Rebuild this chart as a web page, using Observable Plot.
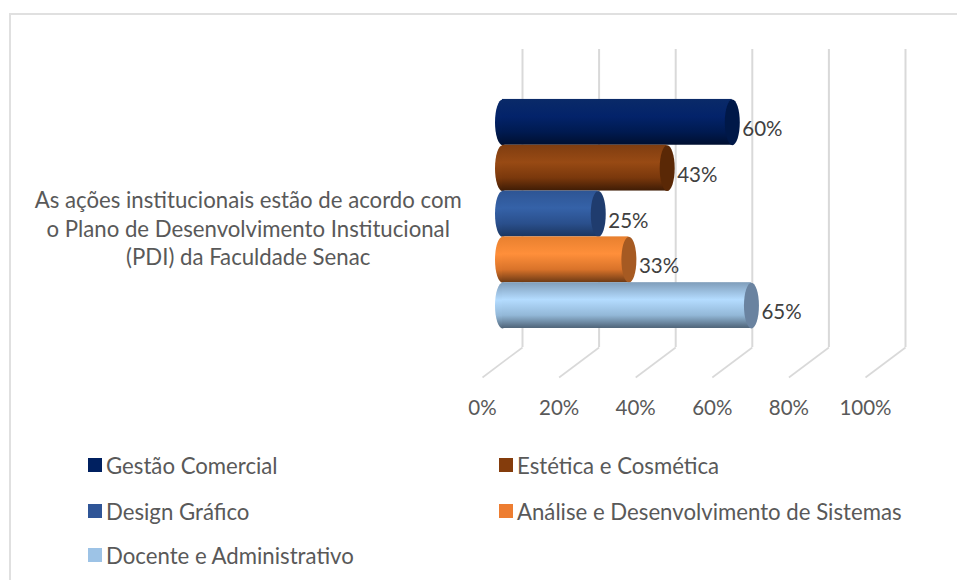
<!DOCTYPE html>
<html lang="pt">
<head>
<meta charset="utf-8">
<script src="https://cdn.jsdelivr.net/npm/d3@7"></script>
<script src="https://cdn.jsdelivr.net/npm/@observablehq/plot@0.6"></script>
<style>
  html, body { margin: 0; padding: 0; background: #fff; }
  #chart { position: relative; width: 957px; height: 580px; overflow: hidden; font-family: Lato, sans-serif; }
  #frame { position: absolute; left: 9px; top: 13px; width: 960px; height: 600px; border: 2px solid #e0e0e0; box-sizing: border-box; }
  #plot { position: absolute; left: 0; top: 0; }
  #plot svg { display: block; background: transparent; }
  .leg { position: absolute; display: flex; align-items: center; height: 20px; color: #595959; font-size: 22.2px; white-space: nowrap; }
  .leg i { display: block; width: 13.5px; height: 14.5px; margin-right: 4.5px; }
</style>
</head>
<body>
<div id="chart"><div id="frame"></div><div id="plot"></div></div>
<script>
const question = "As ações institucionais estão de acordo com\no Plano de Desenvolvimento Institucional\n(PDI) da Faculdade Senac";
const courses = ["Gestão Comercial", "Estética e Cosmética", "Design Gráfico", "Análise e Desenvolvimento de Sistemas", "Docente e Administrativo"];
const values = [60, 43, 25, 33, 65];
const legendColors = ["#002060", "#843C0C", "#2F5597", "#ED7D31", "#9DC3E6"];
const capColors = ["#001848", "#5A2806", "#1F3C6E", "#A65A22", "#6A83A0"];
const gradientStops = [
  ["#0A2A68", "#03236A", "#001A50", "#000F30"],
  ["#7F3D10", "#984A14", "#7A380C", "#3F1C05"],
  ["#2E5594", "#3562A8", "#2A4F8C", "#1B3660"],
  ["#E8802F", "#FF8F3A", "#D9732A", "#6E3A15"],
  ["#7F9DBA", "#B4DCFF", "#93B8D8", "#4F6478"]
];
const ticks = [0, 20, 40, 60, 80, 100];
const legendX = [88, 499, 88, 499, 88];
const legendY = [455, 455, 501, 501, 545];

const depth = 20;
const wallTop = -1.09, wallBottom = 5.415, floorFront = 6.07;
const floorSlip = 2 * depth / 3.83;

// Cylinder end: a vertical ellipse as a dot symbol
const ellipseSymbol = {
  draw(ctx) {
    const rx = 7.5, ry = 22.9, k = 0.5523;
    ctx.moveTo(0, -ry);
    ctx.bezierCurveTo(rx * k, -ry, rx, -ry * k, rx, 0);
    ctx.bezierCurveTo(rx, ry * k, rx * k, ry, 0, ry);
    ctx.bezierCurveTo(-rx * k, ry, -rx, ry * k, -rx, 0);
    ctx.bezierCurveTo(-rx, -ry * k, -rx * k, -ry, 0, -ry);
    ctx.closePath();
  }
};

const gridColor = "#d9d9d9";

const barMarks = courses.flatMap((name, i) => {
  const row = [{ name, value: values[i], i }];
  const fill = `url(#cyl${i})`;
  return [
    Plot.dot(row, { x: () => 0, y: d => d.i + 0.5, r: 20, symbol: ellipseSymbol, fill, stroke: "none" }),
    Plot.rect(row, { x1: () => 0, x2: d => d.value, y1: d => d.i, y2: d => d.i + 1, fill }),
    Plot.dot(row, { x: d => d.value, y: d => d.i + 0.5, r: 20, symbol: ellipseSymbol, fill: capColors[i], stroke: "none" })
  ];
});

const gradients = () => {
  const ns = "http://www.w3.org/2000/svg";
  const defs = document.createElementNS(ns, "defs");
  gradientStops.forEach((stops, i) => {
    const g = document.createElementNS(ns, "linearGradient");
    g.setAttribute("id", `cyl${i}`);
    g.setAttribute("x1", "0"); g.setAttribute("x2", "0");
    g.setAttribute("y1", "0"); g.setAttribute("y2", "1");
    [0, 0.38, 0.72, 1].forEach((o, j) => {
      const s = document.createElementNS(ns, "stop");
      s.setAttribute("offset", o);
      s.setAttribute("stop-color", stops[j]);
      g.appendChild(s);
    });
    defs.appendChild(g);
  });
  return defs;
};

const plot = Plot.plot({
  width: 957,
  height: 440,
  margin: 0,
  style: { fontFamily: "Lato, sans-serif", background: "transparent", overflow: "visible" },
  x: { domain: [0, 100], range: [502, 885], axis: null },
  y: { domain: [wallTop, floorFront], range: [49, 377], axis: null },
  marks: [
    gradients,
    Plot.ruleX(ticks, { x: d => d, y1: wallTop, y2: wallBottom, dx: depth, stroke: gridColor, strokeWidth: 2 }),
    Plot.link(ticks, { x1: d => d + floorSlip, x2: d => d, y1: wallBottom, y2: floorFront, stroke: gridColor, strokeWidth: 1.6, dx: -depth }),
    ...barMarks,
    Plot.text(courses.map((name, i) => ({ value: values[i], i })), {
      x: d => d.value, y: d => d.i + 0.5, text: d => `${d.value}%`,
      dx: 10, dy: 7, textAnchor: "start", fill: "#404040", fontSize: 20.5
    }),
    Plot.text(ticks, {
      x: d => d, y: () => floorFront, text: d => `${d}%`,
      dx: -depth, dy: 31, textAnchor: "middle", fill: "#595959", fontSize: 20.5
    }),
    Plot.text([question], {
      x: () => -66.4, y: () => 2.8, text: d => d,
      lineHeight: 1.28, textAnchor: "middle", fill: "#595959", fontSize: 22.2
    })
  ]
});
document.getElementById("plot").appendChild(plot);

const chart = document.getElementById("chart");
courses.forEach((name, i) => {
  const el = document.createElement("div");
  el.className = "leg";
  el.style.left = legendX[i] + "px";
  el.style.top = legendY[i] + "px";
  const sw = document.createElement("i");
  sw.style.background = legendColors[i];
  el.appendChild(sw);
  el.appendChild(document.createTextNode(name));
  chart.appendChild(el);
});
</script>
</body>
</html>
